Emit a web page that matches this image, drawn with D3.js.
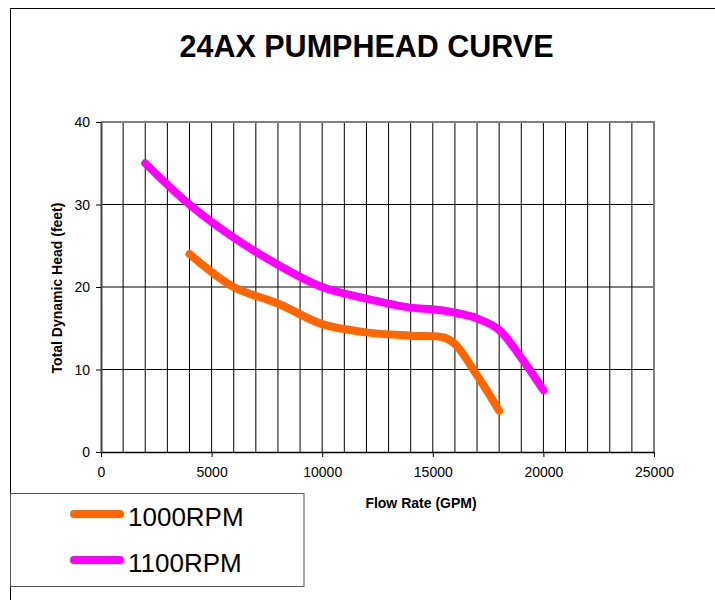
<!DOCTYPE html>
<html>
<head>
<meta charset="utf-8">
<script src="https://cdn.jsdelivr.net/npm/d3@7"></script>
<style>
  html, body { margin: 0; padding: 0; background: #fff; }
  svg { display: block; }
  text { font-family: "Liberation Sans", Arial, sans-serif; }
</style>
</head>
<body>
<svg id="chart" width="715" height="600"></svg>
<script>
// ---- data ----
const titleText = "24AX PUMPHEAD CURVE";
const xAxisTitle = "Flow Rate (GPM)";
const yAxisTitle = "Total Dynamic Head (feet)";
const seriesNames = ["1000RPM", "1100RPM"];
const seriesColors = ["#FF6600", "#FF00FF"];

const flow1000 = [4000, 6000, 8000, 10000, 12000, 14000, 15500, 16000, 17000, 18000];
const head1000 = [24, 20, 18.0, 15.5, 14.5, 14.1, 13.9, 13.1, 9.3, 5];

const flow1100 = [2000, 4000, 6000, 8000, 10000, 12000, 14000, 15000, 16000, 17000, 18000, 19000, 20000];
const head1100 = [35, 30, 26, 22.7, 20, 18.6, 17.5, 17.3, 16.9, 16.2, 14.8, 11.4, 7.5];

const xTicks = [0, 5000, 10000, 15000, 20000, 25000];
const yTicks = [0, 10, 20, 30, 40];
const xGrid = d3.range(1000, 25000, 1000);
const yGrid = [10, 20, 30];

// ---- layout ----
const svg = d3.select("#chart");
const L = 101, R = 654, T = 122, B = 452;
const x = d3.scaleLinear().domain([0, 25000]).range([L, R]);
const y = d3.scaleLinear().domain([0, 40]).range([B, T]);

// outer border (top and left)
svg.append("line").attr("x1", 10.5).attr("x2", 715).attr("y1", 8.5).attr("y2", 8.5)
  .attr("stroke", "#000").attr("stroke-width", 1);
svg.append("line").attr("x1", 10.5).attr("x2", 10.5).attr("y1", 8.5).attr("y2", 600)
  .attr("stroke", "#000").attr("stroke-width", 1);

// title
svg.append("text").attr("x", 366.5).attr("y", 57).attr("text-anchor", "middle")
  .style("font-size", "30.5px").style("font-weight", "bold").text(titleText);

// grid
const g = svg.append("g");
g.selectAll(".vg").data(xGrid).join("line")
  .attr("x1", d => x(d)).attr("x2", d => x(d)).attr("y1", T).attr("y2", B)
  .attr("stroke", "#000").attr("stroke-width", 1);
g.selectAll(".hg").data(yGrid).join("line")
  .attr("x1", L).attr("x2", R).attr("y1", d => y(d)).attr("y2", d => y(d))
  .attr("stroke", "#000").attr("stroke-width", 1);

// plot border (top, right gray)
g.append("line").attr("x1", L).attr("x2", R + 1).attr("y1", T).attr("y2", T)
  .attr("stroke", "#808080").attr("stroke-width", 2);
g.append("line").attr("x1", R).attr("x2", R).attr("y1", T).attr("y2", B)
  .attr("stroke", "#808080").attr("stroke-width", 2);

// axes
const xAxis = d3.axisBottom(x).tickValues(xTicks).tickSize(5).tickSizeOuter(0).tickFormat(d3.format("d"));
const yAxis = d3.axisLeft(y).tickValues(yTicks).tickSize(5).tickSizeOuter(0).tickFormat(d3.format("d"));

const gx = svg.append("g").attr("transform", `translate(0,${B})`).call(xAxis);
gx.select(".domain").attr("stroke", "#000").attr("stroke-width", 1.5);
gx.selectAll(".tick line").attr("stroke", "#000");
gx.selectAll(".tick text").attr("dy", null).attr("y", 25)
  .style("font-size", "14px").style("font-family", "Liberation Sans, Arial, sans-serif").attr("fill", "#000");

const gy = svg.append("g").attr("transform", `translate(${L},0)`).call(yAxis);
gy.select(".domain").attr("stroke", "#444").attr("stroke-width", 2);
gy.selectAll(".tick line").attr("stroke", "#000");
gy.selectAll(".tick text").attr("x", -11).attr("dy", "0.35em")
  .style("font-size", "14px").style("font-family", "Liberation Sans, Arial, sans-serif").attr("fill", "#000");

// axis titles
svg.append("text").attr("x", 421).attr("y", 508).attr("text-anchor", "middle")
  .style("font-size", "14px").style("font-weight", "bold").text(xAxisTitle);
svg.append("text").attr("transform", `translate(62,${(T + B) / 2 + 1}) rotate(-90)`)
  .attr("text-anchor", "middle")
  .style("font-size", "14px").style("font-weight", "bold").text(yAxisTitle);

// series
const line = d3.line().x(d => x(d[0])).y(d => y(d[1])).curve(d3.curveCatmullRom.alpha(0.5));
const series = [
  d3.zip(flow1000, head1000),
  d3.zip(flow1100, head1100)
];
svg.append("g").selectAll("path").data(series).join("path")
  .attr("d", line)
  .attr("fill", "none")
  .attr("stroke", (d, i) => seriesColors[i])
  .attr("stroke-width", 8)
  .attr("stroke-linecap", "round")
  .attr("stroke-linejoin", "round");

// legend
const leg = svg.append("g");
leg.append("rect").attr("x", 10.5).attr("y", 493.5).attr("width", 293.5).attr("height", 93)
  .attr("fill", "#fff").attr("stroke", "#555").attr("stroke-width", 1);
const legY = [514, 560];
seriesNames.forEach((name, i) => {
  leg.append("line").attr("x1", 74).attr("x2", 120).attr("y1", legY[i]).attr("y2", legY[i])
    .attr("stroke", seriesColors[i]).attr("stroke-width", 8).attr("stroke-linecap", "round");
  leg.append("text").attr("x", 128).attr("y", legY[i] + 12)
    .style("font-size", "26px").text(name);
});
</script>
</body>
</html>
